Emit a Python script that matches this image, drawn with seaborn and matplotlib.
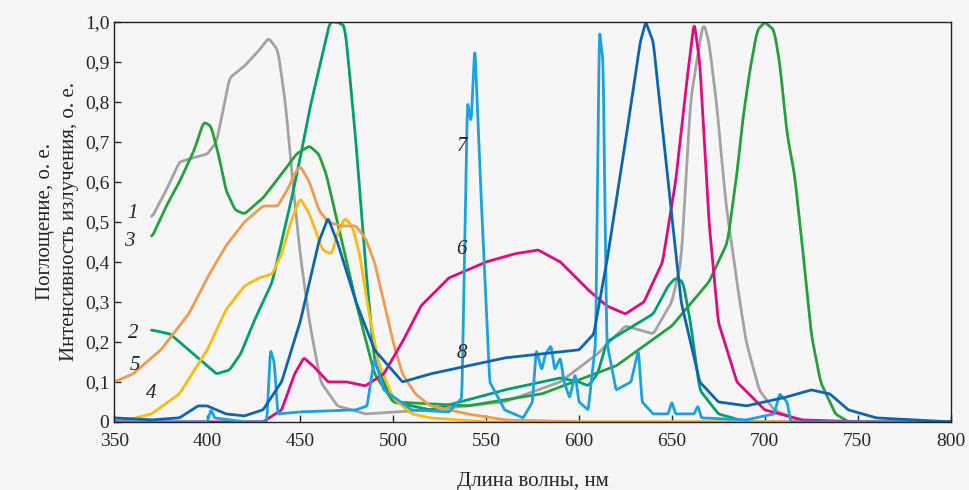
import numpy as np
import pandas as pd
import matplotlib
matplotlib.use("Agg")
import matplotlib.pyplot as plt
import seaborn as sns

wl1 = [370,378,385,392,400,405,412,420,428,433,438,442,446,450,455,461,470,485,520,560,590,610,625,640,650,655,660,664,667,670,674,679,685,690,697,705,720]
v1  = [0.51,0.58,0.65,0.66,0.67,0.70,0.86,0.89,0.93,0.96,0.93,0.80,0.60,0.42,0.25,0.10,0.04,0.02,0.03,0.05,0.10,0.17,0.24,0.22,0.30,0.40,0.80,0.92,1.0,0.95,0.80,0.55,0.35,0.20,0.08,0.03,0.0]
wl2 = [370,380,395,405,412,418,425,435,445,450,455,462,466,470,474,476,480,485,490,500,520,560,580,590,600,605,610,615,640,648,652,656,660,665,675,690,800]
v2  = [0.23,0.22,0.16,0.12,0.13,0.17,0.25,0.35,0.55,0.66,0.78,0.92,1.0,1.0,0.99,0.90,0.70,0.40,0.15,0.05,0.03,0.08,0.10,0.11,0.10,0.09,0.12,0.20,0.27,0.34,0.36,0.35,0.25,0.08,0.02,0.0,0.0]
wl3 = [370,378,385,393,398,402,406,410,415,420,430,440,448,455,460,464,470,480,490,500,540,580,620,650,670,680,685,688,692,696,700,705,708,712,716,720,725,730,738,745,800]
v3  = [0.46,0.54,0.60,0.68,0.75,0.74,0.67,0.58,0.53,0.52,0.56,0.62,0.67,0.69,0.67,0.62,0.50,0.30,0.12,0.05,0.04,0.07,0.14,0.24,0.35,0.45,0.62,0.75,0.88,0.98,1.0,0.98,0.90,0.72,0.62,0.45,0.22,0.10,0.02,0.0,0.0]
wl4 = [350,360,370,385,400,410,420,428,435,440,445,450,455,462,467,470,474,478,482,486,492,500,510,520,550,800]
v4  = [0.003,0.008,0.02,0.07,0.18,0.28,0.34,0.36,0.37,0.42,0.50,0.56,0.52,0.43,0.42,0.47,0.51,0.49,0.42,0.30,0.15,0.06,0.02,0.01,0.0,0.0]
wl5 = [350,360,375,390,400,410,420,430,438,443,447,450,455,460,465,472,480,485,490,495,500,505,512,520,540,560,600,800]
v5  = [0.10,0.12,0.18,0.27,0.36,0.44,0.50,0.54,0.54,0.58,0.62,0.64,0.60,0.53,0.50,0.49,0.49,0.46,0.40,0.30,0.20,0.12,0.07,0.04,0.02,0.005,0.0,0.0]
wl6 = [350,430,440,447,452,457,465,475,485,495,505,515,530,550,565,578,590,605,615,625,635,645,652,658,662,665,670,675,685,700,720,750,800]
v6  = [0.0,0.0,0.03,0.12,0.16,0.14,0.10,0.10,0.09,0.12,0.20,0.29,0.36,0.40,0.42,0.43,0.40,0.33,0.29,0.27,0.30,0.40,0.60,0.85,1.0,0.90,0.50,0.25,0.10,0.03,0.005,0.0,0.0]
wl7 = [350,400,402,404,420,432,434,436,438,450,480,486,490,495,510,530,537,540,542,544,547,552,560,570,575,577,580,582,585,587,590,592,595,598,600,605,609,611,613,615,620,628,632,634,640,648,650,652,662,664,666,690,705,708,712,714,800]
v7  = [0.0,0.0,0.03,0.01,0.0,0.0,0.18,0.15,0.02,0.025,0.03,0.04,0.16,0.08,0.03,0.025,0.06,0.80,0.75,0.94,0.60,0.10,0.03,0.01,0.05,0.18,0.13,0.17,0.19,0.13,0.16,0.10,0.06,0.12,0.05,0.03,0.20,0.98,0.90,0.20,0.08,0.10,0.18,0.05,0.02,0.02,0.05,0.02,0.02,0.04,0.01,0.005,0.02,0.07,0.05,0.0,0.0]
wl8 = [350,370,385,395,400,410,420,430,440,450,460,465,470,480,490,505,520,540,560,580,600,608,615,625,633,636,640,648,655,665,675,690,710,725,735,745,760,800]
v8  = [0.01,0.005,0.01,0.04,0.04,0.02,0.015,0.03,0.10,0.25,0.45,0.51,0.45,0.30,0.18,0.10,0.12,0.14,0.16,0.17,0.18,0.22,0.40,0.70,0.95,1.0,0.95,0.60,0.30,0.10,0.05,0.04,0.06,0.08,0.07,0.03,0.01,0.0]

series = [("1",wl1,v1,"#a3a3a3",9),("2",wl2,v2,"#00a070",9),("3",wl3,v3,"#23a23c",9),
          ("4",wl4,v4,"#fdbb12",9),("5",wl5,v5,"#f39a4c",9),("6",wl6,v6,"#e5097f",5),
          ("7",wl7,v7,"#1aa3e0",3),("8",wl8,v8,"#0b66b2",5)]
labels = [("1",360,0.52),("3",358,0.45),("2",360,0.22),("5",361,0.14),("4",370,0.07),
          ("7",537,0.69),("6",537,0.43),("8",537,0.17)]

sns.set_theme(style="ticks")
plt.rcParams['font.family'] = ['Liberation Serif', 'DejaVu Serif']
fig = plt.figure(figsize=(9.69,4.90), dpi=100, facecolor="#f6f6f6")
ax = fig.add_axes([0.118, 0.139, 0.863, 0.816])
ax.set_facecolor("#f6f6f6")
for name, w, v, c, win in series:
    x = np.arange(w[0], w[-1]+0.25, 0.25)
    df = pd.DataFrame({"x": x, "y": np.interp(x, w, v)})
    df["y"] = df["y"].rolling(win, center=True, min_periods=1).mean()
    sns.lineplot(data=df, x="x", y="y", color=c, lw=2, ax=ax)
for t, x, y in labels:
    ax.text(x, y, t, fontsize=15, style="italic", ha="center", va="center")
ax.set_xlim(350, 800); ax.set_ylim(0, 1.0)
ax.set_xticks(range(350, 801, 50))
yt = np.round(np.arange(0, 1.01, 0.1), 1)
ax.set_yticks(yt)
ax.set_yticklabels(["0"] + [f"{t:.1f}".replace(".", ",") for t in yt[1:]])
ax.tick_params(labelsize=14, direction="in", length=5, width=1)
ax.tick_params(axis="x", pad=8)
ax.set_xlabel("Длина волны, нм", fontsize=15, labelpad=16)
ax.set_ylabel("Поглощение, о. е.\nИнтенсивность излучения, о. е.", fontsize=15, linespacing=1.4)
for s in ax.spines.values():
    s.set_linewidth(1); s.set_color("#222")
fig.savefig("out.png", dpi=100, facecolor=fig.get_facecolor())
